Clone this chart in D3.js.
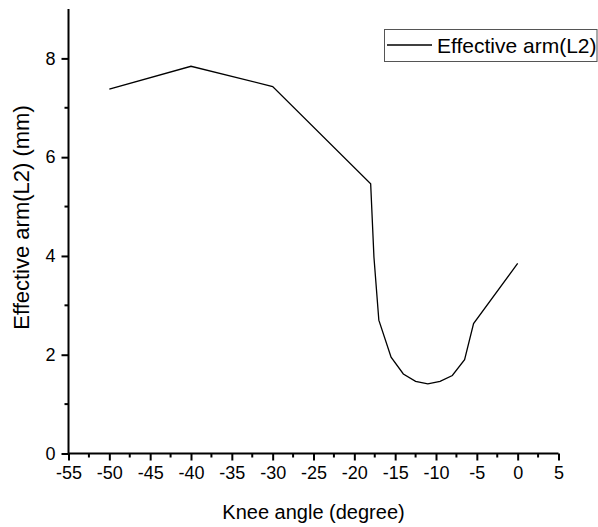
<!DOCTYPE html>
<html><head><meta charset="utf-8">
<script src="https://cdn.jsdelivr.net/npm/d3@7"></script>
<style>body{margin:0;background:#fff}svg{display:block;font-family:"Liberation Sans",Arial,sans-serif}</style>
</head><body>
<svg id="c" width="598" height="527"></svg>
<script>
const kneeAngle = [-50, -40, -30, -18, -17.6, -17, -15.5, -14, -12.5, -11, -9.5, -8, -6.5, -5.4, 0];
const effectiveArm = [7.38, 7.84, 7.43, 5.46, 3.98, 2.70, 1.95, 1.61, 1.46, 1.41, 1.46, 1.58, 1.90, 2.63, 3.85];
const xTicks = [-55, -50, -45, -40, -35, -30, -25, -20, -15, -10, -5, 0, 5];
const yTicks = [0, 2, 4, 6, 8];
const seriesName = "Effective arm(L2)";

const svg = d3.select("#c");
const L = 68.5, R = 558.5, T = 9, B = 453.5;
const x = d3.scaleLinear().domain([-55, 5]).range([L, R]);
const y = d3.scaleLinear().domain([0, 9]).range([B, T]);

const minorX = d3.range(-52.5, 5, 5);
const minorY = [1, 3, 5, 7];
const fmt = d => String(d);

// x axis
const gx = svg.append("g").attr("transform", `translate(0,${B})`);
gx.call(d3.axisBottom(x).tickValues(xTicks).tickSize(7).tickSizeOuter(0).tickPadding(6).tickFormat(fmt));
gx.append("g").selectAll("line").data(minorX).join("line")
  .attr("x1", d => x(d)).attr("x2", d => x(d)).attr("y1", 0).attr("y2", 4).attr("stroke", "#000").attr("stroke-width", 2);
// y axis
const gy = svg.append("g").attr("transform", `translate(${L},0)`);
gy.call(d3.axisLeft(y).tickValues(yTicks).tickSize(7).tickSizeOuter(0).tickPadding(6).tickFormat(fmt));
gy.append("g").selectAll("line").data(minorY).join("line")
  .attr("y1", d => y(d)).attr("y2", d => y(d)).attr("x1", 0).attr("x2", -4).attr("stroke", "#000").attr("stroke-width", 2);

[gx, gy].forEach(g => {
  g.select(".domain").attr("stroke", "#000").attr("stroke-width", 2);
  g.selectAll(".tick line").attr("stroke", "#000").attr("stroke-width", 2);
  g.selectAll(".tick text").attr("fill", "#000").style("font-size", "18px").style("font-family", "Liberation Sans, Arial, sans-serif");
});
gx.select(".domain").attr("d", `M${L},0H${R}`);
gy.select(".domain").attr("d", `M0,${B}V${T}`);

// line
svg.append("path")
  .datum(kneeAngle.map((k, i) => [k, effectiveArm[i]]))
  .attr("fill", "none").attr("stroke", "#000").attr("stroke-width", 1.3)
  .attr("d", d3.line().x(d => x(d[0])).y(d => y(d[1])));

// titles
svg.append("text").attr("x", (L + R) / 2).attr("y", 519).attr("text-anchor", "middle")
  .style("font-size", "20px").text("Knee angle (degree)");
svg.append("text").attr("transform", `translate(29,${(101 + 334) / 2}) rotate(-90)`).attr("text-anchor", "middle")
  .style("font-size", "22px").text("Effective arm(L2) (mm)");

// legend
const lg = svg.append("g");
lg.append("rect").attr("x", 384.5).attr("y", 29.5).attr("width", 212.5).attr("height", 32)
  .attr("fill", "#fff").attr("stroke", "#555").attr("stroke-width", 1);
lg.append("line").attr("x1", 387).attr("x2", 432).attr("y1", 45).attr("y2", 45).attr("stroke", "#000").attr("stroke-width", 1.3);
lg.append("text").attr("x", 437).attr("y", 52.5).style("font-size", "21px").text(seriesName);
</script>
</body></html>
